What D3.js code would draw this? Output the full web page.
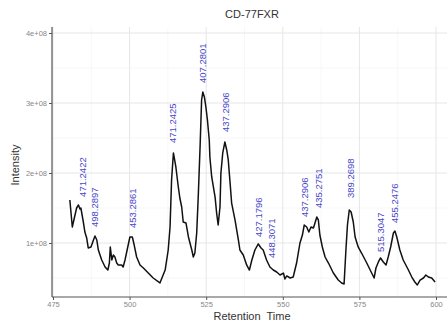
<!DOCTYPE html>
<html>
<head>
<meta charset="utf-8">
<script src="https://cdn.jsdelivr.net/npm/d3@7"></script>
<style>
  body { margin: 0; background: #fff; }
  svg { font-family: "Liberation Sans", Arial, sans-serif; }
</style>
</head>
<body>
<div id="chart"></div>
<script>
// retention time / intensity (x 1e8)
const rt = [480.5, 481.3, 482.7, 483.3, 483.8, 484.1, 484.9, 485.4, 486.0, 486.5, 487.4, 488.2, 488.7, 489.3, 489.8,
  490.9, 492.0, 492.9, 493.4, 493.7, 494.2, 494.7, 495.2, 495.8, 496.3, 497.4, 497.9, 498.5, 499.4, 500.1, 500.9,
  501.5, 502.3, 503.4, 504.5, 506.1, 507.7, 509.9, 511.6, 512.6, 513.2, 513.7, 514.3, 515.1, 515.9, 516.4, 517.0,
  517.5, 518.4, 519.2, 520.3, 520.8, 521.3, 521.9, 522.4, 523.0, 523.5, 523.9, 524.4, 524.9, 525.4, 526.0, 526.2,
  526.8, 527.9, 528.4, 528.9, 529.5, 529.8, 530.4, 531.1, 531.7, 532.2, 532.8, 533.3, 534.4, 535.5, 536.0, 537.1,
  538.2, 539.1, 539.9, 540.9, 542.0, 542.9, 543.6, 544.7, 545.8, 546.9, 548.0, 549.1, 550.2, 550.7, 551.3, 552.4,
  553.4, 554.5, 555.6, 556.4, 557.0, 557.8, 558.5, 559.2, 560.0, 560.5, 561.1, 561.6, 562.1, 562.9, 563.8, 564.9,
  566.5, 568.1, 569.2, 570.0, 570.6, 571.1, 571.7, 572.3, 573.0, 573.6, 574.6, 575.7, 577.4, 579.0, 579.8, 580.4,
  581.2, 581.9, 582.8, 583.7, 584.4, 585.2, 586.1, 586.6, 587.2, 588.2, 589.3, 591.0, 592.1, 593.1, 593.9, 594.8,
  595.9, 596.7, 597.5, 598.6, 599.7];
const intensity = [1.614, 1.229, 1.50, 1.543, 1.486, 1.50, 1.30, 1.157, 1.071, 0.929, 0.943, 1.043, 1.10, 1.043, 0.90,
  0.757, 0.657, 0.614, 0.714, 0.943, 0.757, 0.829, 0.80, 0.714, 0.686, 0.686, 0.657, 0.757, 0.943, 1.086, 1.086,
  0.971, 0.80, 0.686, 0.643, 0.571, 0.50, 0.429, 0.614, 0.90, 1.229, 1.90, 2.286, 2.086, 1.80, 1.643, 1.514,
  1.30, 1.286, 1.086, 0.90, 0.80, 0.857, 1.143, 1.657, 2.371, 3.043, 3.157, 3.086, 2.943, 2.757, 2.471, 2.229,
  1.943, 1.657, 1.429, 1.257, 1.514, 2.0, 2.286, 2.443, 2.329, 2.186, 1.857, 1.571, 1.329, 1.043, 0.90, 0.829,
  0.686, 0.614, 0.757, 0.90, 0.986, 0.929, 0.90, 0.757, 0.657, 0.614, 0.586, 0.543, 0.571, 0.486, 0.529, 0.50,
  0.514, 0.714, 1.0, 1.114, 1.257, 1.229, 1.157, 1.229, 1.214, 1.286, 1.371, 1.329, 1.114, 0.943, 0.80, 0.714,
  0.571, 0.471, 0.429, 0.414, 0.90, 1.257, 1.471, 1.443, 1.30, 1.086, 0.943, 0.857, 0.714, 0.571, 0.50, 0.643,
  0.729, 0.786, 0.729, 0.686, 0.80, 0.943, 1.143, 1.171, 1.086, 0.90, 0.757, 0.614, 0.514, 0.443, 0.40, 0.471,
  0.50, 0.543, 0.514, 0.50, 0.443];

// peak annotations
const labelText = ['471.2422', '498.2897', '453.2861', '471.2425', '407.2801', '437.2906', '427.1796',
  '448.3071', '437.2906', '435.2751', '389.2698', '515.3047', '455.2476'];
const labelRt = [484.8, 488.7, 501.1, 514.2, 524.0, 531.5, 542.2, 546.5, 557.2, 561.8, 572.3, 582.0, 586.6];
const labelInt = [1.53, 1.10, 1.086, 2.30, 3.157, 2.457, 0.957, 0.657, 1.243, 1.371, 1.514, 0.743, 1.157];

const xTicks = [475, 500, 525, 550, 575, 600];
const yTicks = [1e8, 2e8, 3e8, 4e8];
const yTickLabels = ['1e+08', '2e+08', '3e+08', '4e+08'];

const W = 447, H = 323;
const pLeft = 52, pRight = 447, pTop = 27, pBottom = 297;

const svg = d3.select('#chart').append('svg')
        .attr('width', W)
        .attr('height', H);

const x = d3.scaleLinear().domain([475, 600]).range([53, 436]);
const y = d3.scaleLinear().domain([0, 4e8]).range([313, 33]);

svg.append('clipPath').attr('id', 'panel')
        .append('rect')
        .attr('x', pLeft).attr('y', pTop)
        .attr('width', pRight - pLeft).attr('height', pBottom - pTop);

const grid = svg.append('g').attr('clip-path', 'url(#panel)');

// minor grid
const xMinor = d3.range(462.5, 626, 25);
const yMinor = d3.range(0.5e8, 4.6e8, 1e8);
grid.selectAll('.xm').data(xMinor).join('line')
        .attr('x1', d => x(d)).attr('x2', d => x(d))
        .attr('y1', pTop).attr('y2', pBottom)
        .attr('stroke', '#f2f2f2').attr('stroke-width', 0.6);
grid.selectAll('.ym').data(yMinor).join('line')
        .attr('x1', pLeft).attr('x2', pRight)
        .attr('y1', d => y(d)).attr('y2', d => y(d))
        .attr('stroke', '#f2f2f2').attr('stroke-width', 0.6);
// major grid
grid.selectAll('.xg').data(xTicks.concat([625])).join('line')
        .attr('x1', d => x(d)).attr('x2', d => x(d))
        .attr('y1', pTop).attr('y2', pBottom)
        .attr('stroke', '#e6e6e6').attr('stroke-width', 1);
grid.selectAll('.yg').data(yTicks).join('line')
        .attr('x1', pLeft).attr('x2', pRight)
        .attr('y1', d => y(d)).attr('y2', d => y(d))
        .attr('stroke', '#e6e6e6').attr('stroke-width', 1);

// trace
const line = d3.line()
        .x((d, i) => x(rt[i]))
        .y(d => y(d * 1e8));

grid.append('path')
        .datum(intensity)
        .attr('d', line)
        .attr('fill', 'none')
        .attr('stroke', '#111')
        .attr('stroke-width', 1.5)
        .attr('stroke-linejoin', 'round');

// labels
svg.selectAll('.lab').data(labelText).join('text')
        .attr('transform', (d, i) => `translate(${x(labelRt[i])},${y(labelInt[i] * 1e8) - 9}) rotate(-90)`)
        .attr('dy', '0.35em')
        .attr('text-anchor', 'start')
        .attr('font-size', 9.5)
        .attr('fill', '#4848c8')
        .text(d => d);

// axes
const xAxis = d3.axisBottom(x).tickValues(xTicks).tickSize(3).tickPadding(2);
const yAxis = d3.axisLeft(y).tickValues(yTicks).tickSize(3).tickPadding(2)
        .tickFormat((d, i) => yTickLabels[i]);

const gx = svg.append('g').attr('transform', `translate(0,${pBottom})`).call(xAxis);
const gy = svg.append('g').attr('transform', `translate(${pLeft},0)`).call(yAxis);

[gx, gy].forEach(g => {
        g.select('.domain').remove();
        g.selectAll('.tick line').attr('stroke', '#555');
        g.selectAll('.tick text').attr('fill', '#888').attr('font-size', 7.5).attr('font-family', 'Liberation Sans, Arial, sans-serif');
});

svg.append('line')
        .attr('x1', pLeft).attr('x2', pLeft).attr('y1', pTop).attr('y2', pBottom)
        .attr('stroke', '#555').attr('stroke-width', 1.2);
svg.append('line')
        .attr('x1', pLeft).attr('x2', pRight).attr('y1', pBottom).attr('y2', pBottom)
        .attr('stroke', '#555').attr('stroke-width', 1.2);

// titles
svg.append('text')
        .attr('x', 252).attr('y', 18)
        .attr('text-anchor', 'middle')
        .attr('font-size', 11)
        .attr('fill', '#333')
        .text('CD-77FXR');

svg.append('text')
        .attr('x', 252).attr('y', 320)
        .attr('text-anchor', 'middle')
        .attr('font-size', 11)
        .attr('fill', '#333')
        .style('white-space', 'pre')
        .text('Retention  Time');

svg.append('text')
        .attr('transform', 'translate(19,165) rotate(-90)')
        .attr('text-anchor', 'middle')
        .attr('font-size', 11)
        .attr('fill', '#333')
        .text('Intensity');
</script>
</body>
</html>
